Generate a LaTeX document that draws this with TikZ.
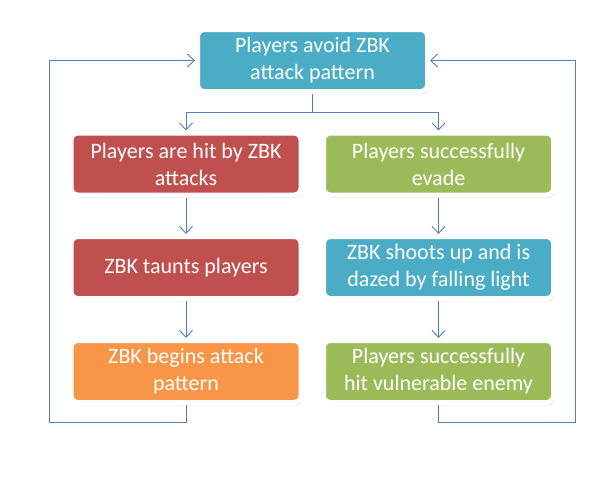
\documentclass[tikz,border=0pt]{standalone}
\usepackage{fontspec}
\setmainfont{Carlito}
\usetikzlibrary{arrows.meta,shadows}
\definecolor{cteal}{HTML}{4BACC6}
\definecolor{cred}{HTML}{C0504D}
\definecolor{cgreen}{HTML}{9BBB59}
\definecolor{corange}{HTML}{F79646}
\definecolor{cline}{HTML}{4F81BD}
\tikzset{
  box/.style={rounded corners=7pt, draw=white, line width=5pt,
    minimum width=230pt, minimum height=62pt, inner sep=0pt,
    text=white, align=center, font=\fontsize{22}{27}\selectfont,
    drop shadow={shadow xshift=1.5pt, shadow yshift=-2.5pt, opacity=0.25, fill=black}},
  conn/.style={draw=cline, line width=0.9pt},
  arr/.style={conn, -{Straight Barb[length=7pt,width=13pt,line width=0.9pt]}}
}
\begin{document}
\begin{tikzpicture}[x=1pt,y=-1pt]
\useasboundingbox[fill=white] (0,0) rectangle (615,480);
\node[box, fill=cteal] (top) at (312.5,60.5) {Players avoid ZBK\\attack pattern};
\node[box, fill=cred] (l1) at (186,164) {Players are hit by ZBK\\attacks};
\node[box, fill=cred] (l2) at (186,267.5) {ZBK taunts players};
\node[box, fill=corange] (l3) at (186,371.5) {ZBK begins attack\\pattern};
\node[box, fill=cgreen] (r1) at (438.5,164) {Players successfully\\evade};
\node[box, fill=cteal] (r2) at (438.5,267.5) {ZBK shoots up and is\\dazed by falling light};
\node[box, fill=cgreen] (r3) at (438.5,371.5) {Players successfully\\hit vulnerable enemy};
\coordinate (split) at (312.5,112);
\coordinate (bl) at (49,422);
\coordinate (br) at (575,422);
\draw[conn] (top.south) -- (split);
\draw[arr] (split) -| (l1.north);
\draw[arr] (split) -| (r1.north);
\draw[arr] (l1.south) -- (l2.north);
\draw[arr] (l2.south) -- (l3.north);
\draw[arr] (r1.south) -- (r2.north);
\draw[arr] (r2.south) -- (r3.north);
\draw[arr] (l3.south) |- (bl) |- (top.west);
\draw[arr] (r3.south) |- (br) |- (top.east);
\end{tikzpicture}
\end{document}
